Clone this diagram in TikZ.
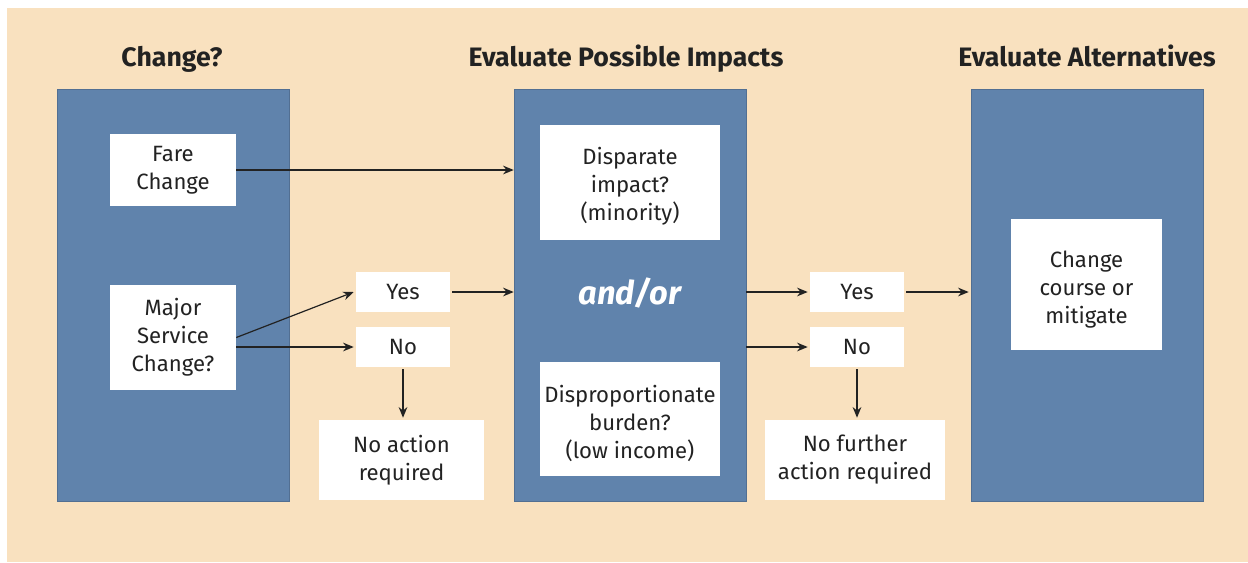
\documentclass[tikz,border=0pt]{standalone}
\usepackage{fontspec}
\setmainfont{Fira Sans}
\usetikzlibrary{arrows.meta}
\definecolor{peach}{HTML}{F9E1BF}
\definecolor{panelblue}{HTML}{6083AC}
\definecolor{ink}{HTML}{222222}
\newcommand\lowerby[2]{\raisebox{-#1}[\height][\depth]{\begin{tabular}{@{}c@{}}#2\end{tabular}}}
\tikzset{
  panel/.style={fill=panelblue, draw=panelblue!85!black, line width=0.4pt, minimum width=174pt, minimum height=309pt, inner sep=0pt},
  wbox/.style={fill=white, draw=none, inner sep=0pt, align=center, text=ink,
    font=\fontsize{16.6}{21}\selectfont},
  ttl/.style={font=\fontsize{20}{24}\selectfont\bfseries, text=ink, anchor=base},
  arr/.style={draw=ink, line width=0.9pt, -{Stealth[length=8pt,width=6.5pt]}},
}
\begin{document}
\begin{tikzpicture}[x=0.75pt,y=-0.75pt]
\useasboundingbox (0,0) rectangle (1248,562);
\fill[white] (0,0) rectangle (1248,562);
\fill[peach] (7,8) rectangle (1248,562);
% titles
\node[ttl] (t1) at (172,66) {Change?};
\node[ttl] (t2) at (626,66) {Evaluate Possible Impacts};
\node[ttl] (t3) at (1087,66) {Evaluate Alternatives};
% panels
\node[panel] (leftp) at (173,295) {};
\node[panel] (midp) at (630,295) {};
\node[panel] (rightp) at (1087,295) {};
% white boxes
\node[wbox, minimum width=94.5pt, minimum height=54pt] (fare) at (173,170) {Fare\\Change};
\node[wbox, minimum width=94.5pt, minimum height=78.75pt] (major) at (173,337.5) {Major\\Service\\Change?};
\node[wbox, minimum width=70.5pt, minimum height=30pt] (yesL) at (403,292) {Yes};
\node[wbox, minimum width=70.5pt, minimum height=30pt] (noL) at (403,347) {No};
\node[wbox, minimum width=123.75pt, minimum height=60pt] (noact) at (401.5,460) {No action\\required};
\node[wbox, minimum width=135pt, minimum height=86.25pt] (disp) at (630,182.5) {\lowerby{3pt}{Disparate\\impact?\\(minority)}};
\node[font=\fontsize{24.5}{28}\selectfont\bfseries\itshape, text=white] (andor) at (630,293) {and/or};
\node[wbox, minimum width=135pt, minimum height=85.5pt] (dispro) at (630,419) {\lowerby{4.5pt}{Disproportionate\\burden?\\(low income)}};
\node[wbox, minimum width=70.5pt, minimum height=30pt] (yesR) at (857,292) {Yes};
\node[wbox, minimum width=70.5pt, minimum height=30pt] (noR) at (857,347) {No};
\node[wbox, minimum width=135pt, minimum height=60pt] (nofurther) at (855,460) {No further\\action required};
\node[wbox, minimum width=113.25pt, minimum height=98.25pt] (chg) at (1086.5,284.5) {\lowerby{3.75pt}{Change\\course or\\mitigate}};
% connectors
\draw[arr] (fare.east) -- (fare.east -| midp.west);
\draw[arr] (major.east) -- ([xshift=-1.5pt]yesL.west);
\draw[arr] (major.east |- noL.west) -- ([xshift=-1.5pt]noL.west);
\draw[arr] ([xshift=1.5pt]yesL.east) -- (yesL.east -| midp.west);
\draw[arr] ([yshift=-1.5pt]noL.south) -- ([yshift=1.5pt]noL.south |- noact.north);
\draw[arr] (yesR.west -| midp.east) -- ([xshift=-1.5pt]yesR.west);
\draw[arr] (noR.west -| midp.east) -- ([xshift=-1.5pt]noR.west);
\draw[arr] ([xshift=1.5pt]yesR.east) -- ([xshift=-1.5pt]yesR.east -| rightp.west);
\draw[arr] ([yshift=-1.5pt]noR.south) -- ([yshift=1.5pt]noR.south |- nofurther.north);
\end{tikzpicture}
\end{document}
